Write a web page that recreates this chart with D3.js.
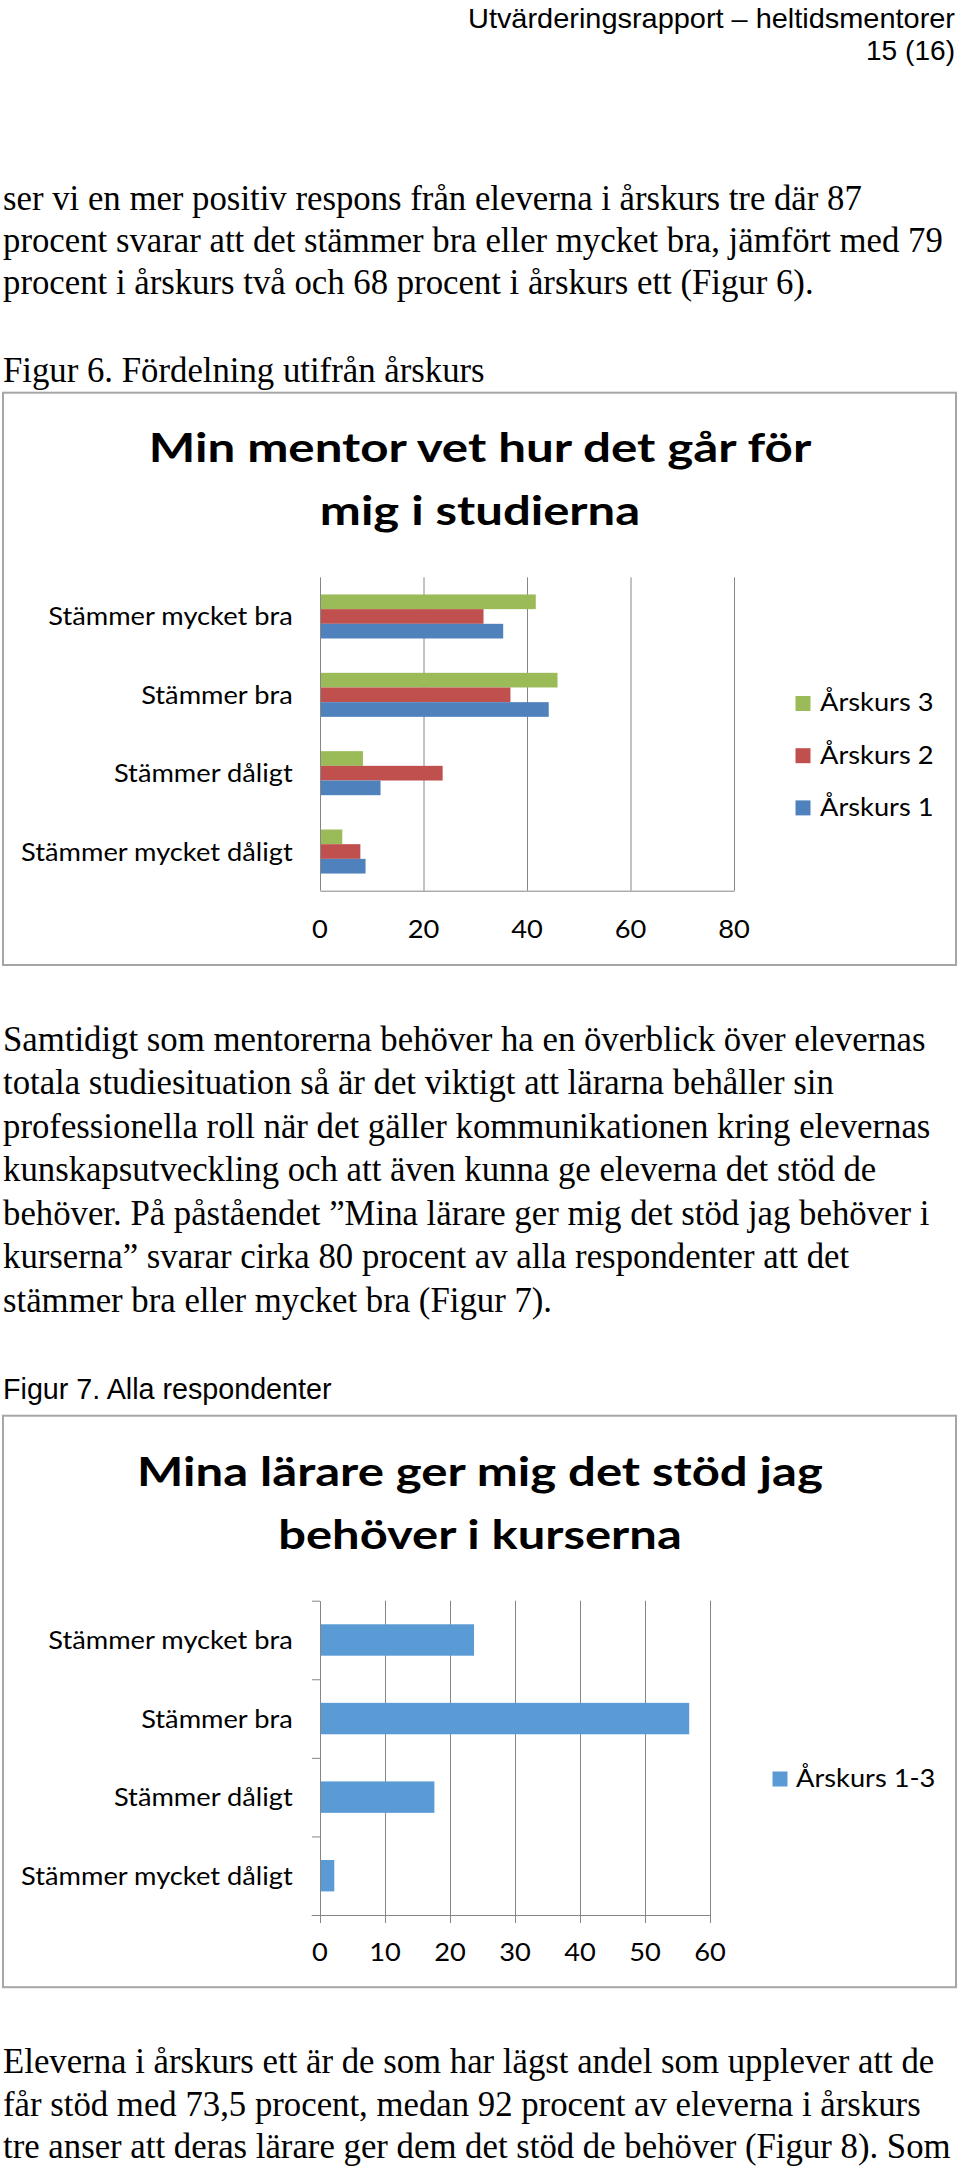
<!DOCTYPE html>
<html>
<head>
<meta charset="utf-8">
<script src="https://cdn.jsdelivr.net/npm/d3@7"></script>
<style>
  html, body { margin: 0; padding: 0; background: #fff; }
  svg { display: block; }
</style>
</head>
<body>
<svg id="page" width="960" height="2171"></svg>
<script>
// ---------------- DATA ----------------
const headerTitle = "Utvärderingsrapport – heltidsmentorer";
const headerPage = "15 (16)";

const paragraph1 = [
  "ser vi en mer positiv respons från eleverna i årskurs tre där 87",
  "procent svarar att det stämmer bra eller mycket bra, jämfört med 79",
  "procent i årskurs två och 68 procent i årskurs ett (Figur 6)."
];
const caption1 = "Figur 6. Fördelning utifrån årskurs";
const paragraph2 = [
  "Samtidigt som mentorerna behöver ha en överblick över elevernas",
  "totala studiesituation så är det viktigt att lärarna behåller sin",
  "professionella roll när det gäller kommunikationen kring elevernas",
  "kunskapsutveckling och att även kunna ge eleverna det stöd de",
  "behöver. På påståendet ”Mina lärare ger mig det stöd jag behöver i",
  "kurserna” svarar cirka 80 procent av alla respondenter att det",
  "stämmer bra eller mycket bra (Figur 7)."
];
const caption2 = "Figur 7. Alla respondenter";
const paragraph3 = [
  "Eleverna i årskurs ett är de som har lägst andel som upplever att de",
  "får stöd med 73,5 procent, medan 92 procent av eleverna i årskurs",
  "tre anser att deras lärare ger dem det stöd de behöver (Figur 8). Som"
];

// Chart 1
const chart1Title = ["Min mentor vet hur det går för", "mig i studierna"];
const categories = ["Stämmer mycket bra", "Stämmer bra", "Stämmer dåligt", "Stämmer mycket dåligt"];
const seriesNames1 = ["Årskurs 3", "Årskurs 2", "Årskurs 1"];
const arskurs3 = [41.7, 45.9, 8.3, 4.3];
const arskurs2 = [31.6, 36.8, 23.7, 7.8];
const arskurs1 = [35.4, 44.2, 11.7, 8.8];
const ticks1 = [0, 20, 40, 60, 80];

// Chart 2
const chart2Title = ["Mina lärare ger mig det stöd jag", "behöver i kurserna"];
const seriesName2 = "Årskurs 1-3";
const allaValues = [23.7, 56.8, 17.6, 2.2];
const ticks2 = [0, 10, 20, 30, 40, 50, 60];

// ---------------- HELPERS ----------------
const svg = d3.select("#page");
const SERIF = "'Liberation Serif', 'Times New Roman', serif";
const ARIAL = "'Liberation Sans', Arial, sans-serif";
const CAL = "Lato, 'Open Sans', sans-serif";
const GRID = "#868686";

function measure(str, family, size, weight) {
  const t = svg.append("text").style("font-family", family).style("font-size", size + "px")
    .style("font-weight", weight || 400).text(str);
  const w = t.node().getComputedTextLength();
  t.remove();
  return w;
}
// horizontal compression so Lato matches Calibri-like proportions
const calSize = 25.5;
const calK = 244.4 / measure("Stämmer mycket bra", CAL, calSize, 400);

function calText(g, str, x, y, anchor) {
  const w = measure(str, CAL, calSize, 400) * calK;
  return g.append("text").attr("x", x).attr("y", y).attr("text-anchor", anchor || "start")
    .style("font-family", CAL).style("font-size", calSize + "px").attr("fill", "#000")
    .attr("textLength", w).attr("lengthAdjust", "spacingAndGlyphs").text(str);
}

function drawLines(lines, x, y0, step, family, size) {
  lines.forEach((l, i) => {
    svg.append("text").attr("x", x).attr("y", y0 + i * step)
      .style("font-family", family).style("font-size", size + "px").attr("fill", "#000").text(l);
  });
}

function drawTitle(g, lines, baselines, widths) {
  lines.forEach((l, i) => {
    g.append("text").attr("x", 480).attr("y", baselines[i]).attr("text-anchor", "middle")
      .style("font-family", CAL).style("font-weight", 700).style("font-size", "40px").attr("fill", "#000")
      .attr("textLength", widths[i]).attr("lengthAdjust", "spacingAndGlyphs").text(l);
  });
}

// ---------------- PAGE TEXT ----------------
svg.append("text").attr("x", 955).attr("y", 28).attr("text-anchor", "end")
  .style("font-family", ARIAL).style("font-size", "28px").attr("fill", "#000")
  .attr("textLength", 487).attr("lengthAdjust", "spacingAndGlyphs").text(headerTitle);
svg.append("text").attr("x", 955).attr("y", 60).attr("text-anchor", "end")
  .style("font-family", ARIAL).style("font-size", "28.5px").attr("fill", "#000")
  .attr("textLength", 89).attr("lengthAdjust", "spacingAndGlyphs").text(headerPage);

const bodySize = 34.75;
drawLines(paragraph1, 3, 209.5, 42, SERIF, bodySize);
drawLines([caption1], 3, 381.5, 0, SERIF, bodySize);
drawLines(paragraph2, 3, 1050.5, 43.5, SERIF, bodySize);
svg.append("text").attr("x", 3).attr("y", 1399.3)
  .style("font-family", ARIAL).style("font-size", "28.7px").attr("fill", "#000").text(caption2);
drawLines(paragraph3, 3, 2072.7, 42.8, SERIF, bodySize);

// ---------------- CHART 1 ----------------
{
  const g = svg.append("g");
  g.append("rect").attr("x", 3).attr("y", 392.7).attr("width", 953).attr("height", 572.3)
    .attr("fill", "#fff").attr("stroke", "#a6a6a6").attr("stroke-width", 2);
  drawTitle(g, chart1Title, [462, 525], [662.6, 320.3]);

  const top = 577.3, bottom = 890.7;
  const x = d3.scaleLinear().domain([0, 80]).range([320, 734]);
  const y = d3.scaleBand().domain(categories).range([top, bottom]).paddingInner(0.438).paddingOuter(0.219);
  const sub = d3.scaleBand().domain(seriesNames1).range([0, y.bandwidth()]);
  const color = d3.scaleOrdinal().domain(seriesNames1).range(["#9BBB59", "#C0504D", "#4F81BD"]);
  const seriesData = [arskurs3, arskurs2, arskurs1];

  // gridlines
  const grid = g.append("g").attr("transform", `translate(0,${bottom})`)
    .call(d3.axisBottom(x).tickValues(ticks1.slice(1)).tickSize(-(bottom - top)).tickFormat(""));
  grid.select(".domain").remove();
  grid.selectAll("line").attr("stroke", GRID);

  // bars
  seriesNames1.forEach((s, si) => {
    g.append("g").selectAll("rect").data(categories).join("rect")
      .attr("x", x(0))
      .attr("y", c => y(c) + sub(s))
      .attr("width", (c, i) => x(seriesData[si][i]) - x(0))
      .attr("height", sub.bandwidth())
      .attr("fill", color(s));
  });

  // axes
  const ax = g.append("g").attr("transform", `translate(0,${bottom})`)
    .call(d3.axisBottom(x).tickValues(ticks1).tickSize(0).tickFormat(d3.format("d")));
  ax.attr("font-size", null).attr("font-family", null);
  ax.select(".domain").attr("stroke", GRID);
  ax.selectAll(".tick text").remove();
  ticks1.forEach(t => calText(g, String(t), x(t), bottom + 47.5, "middle"));
  g.append("line").attr("x1", 320.5).attr("x2", 320.5).attr("y1", top).attr("y2", bottom).attr("stroke", GRID);

  // category labels
  categories.forEach(c => calText(g, c, 292.7, y(c) + y.bandwidth() / 2 + 9, "end"));

  // legend
  seriesNames1.forEach((s, i) => {
    const ly = 696 + i * 52.2;
    g.append("rect").attr("x", 795.5).attr("y", ly).attr("width", 15).attr("height", 15).attr("fill", color(s));
    calText(g, s, 820, ly + 15.3, "start");
  });
}

// ---------------- CHART 2 ----------------
{
  const g = svg.append("g");
  g.append("rect").attr("x", 3).attr("y", 1415.7).attr("width", 953).attr("height", 571.5)
    .attr("fill", "#fff").attr("stroke", "#a6a6a6").attr("stroke-width", 2);
  drawTitle(g, chart2Title, [1486, 1549.3], [685.8, 403.6]);

  const top = 1600.7, bottom = 1915;
  const x = d3.scaleLinear().domain([0, 60]).range([320, 710]);
  const y = d3.scaleBand().domain(categories).range([top, bottom]).paddingInner(0.6).paddingOuter(0.3);
  const barColor = "#5B9BD5";

  const grid = g.append("g").attr("transform", `translate(0,${bottom})`)
    .call(d3.axisBottom(x).tickValues(ticks2.slice(1)).tickSize(-(bottom - top)).tickFormat(""));
  grid.select(".domain").remove();
  grid.selectAll("line").attr("stroke", GRID);

  g.append("g").selectAll("rect").data(categories).join("rect")
    .attr("x", x(0))
    .attr("y", c => y(c))
    .attr("width", (c, i) => x(allaValues[i]) - x(0))
    .attr("height", y.bandwidth())
    .attr("fill", barColor);

  // y axis with ticks at category boundaries
  const yb = d3.scaleLinear().domain([0, categories.length]).range([top, bottom]);
  const ay = g.append("g").attr("transform", "translate(320,0)")
    .call(d3.axisLeft(yb).ticks(categories.length).tickSize(8).tickSizeOuter(0).tickFormat(""));
  ay.select(".domain").attr("stroke", GRID);
  ay.selectAll("line").attr("stroke", GRID);

  const ax = g.append("g").attr("transform", `translate(0,${bottom})`)
    .call(d3.axisBottom(x).tickValues(ticks2).tickSize(8).tickSizeOuter(0).tickFormat(d3.format("d")));
  ax.attr("font-size", null).attr("font-family", null);
  ax.select(".domain").attr("stroke", GRID);
  ax.selectAll("line").attr("stroke", GRID);
  ax.selectAll(".tick text").remove();
  g.append("line").attr("x1", 311.7).attr("x2", 320).attr("y1", bottom + 0.5).attr("y2", bottom + 0.5).attr("stroke", GRID);
  ticks2.forEach(t => calText(g, String(t), x(t), bottom + 46, "middle"));

  categories.forEach(c => calText(g, c, 292.7, y(c) + y.bandwidth() / 2 + 9, "end"));

  g.append("rect").attr("x", 772.5).attr("y", 1771.5).attr("width", 15).attr("height", 15).attr("fill", barColor);
  calText(g, seriesName2, 796, 1787, "start");
}
</script>
</body>
</html>
